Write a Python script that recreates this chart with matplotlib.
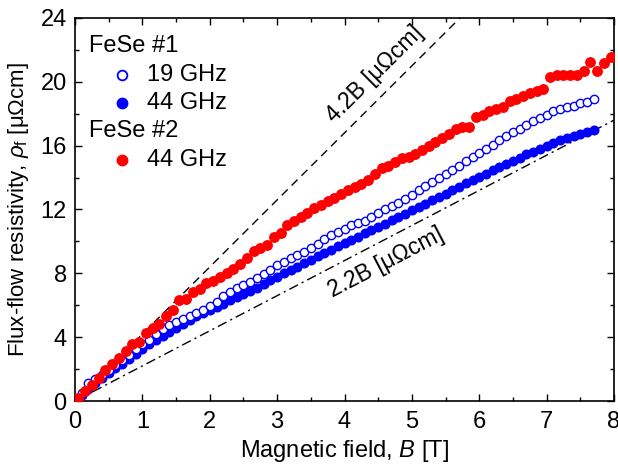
import numpy as np
import matplotlib
matplotlib.use('Agg')
import matplotlib.pyplot as plt

plt.rcParams['font.family'] = 'Liberation Sans'
plt.rcParams['mathtext.fontset'] = 'custom'
plt.rcParams['mathtext.rm'] = 'Liberation Sans'
plt.rcParams['mathtext.it'] = 'Liberation Sans:italic'

# FeSe #1, 19 GHz (open circles)
b_19 = np.round(np.arange(0.1, 7.75, 0.1), 2)
rho_19 = [0.5, 1.1, 1.35, 1.65, 1.95, 2.25, 2.6, 2.9, 3.25, 3.55,
          3.85, 4.2, 4.5, 4.75, 4.95, 5.15, 5.3, 5.5, 5.7, 5.95,
          6.2, 6.55, 6.85, 7.05, 7.25, 7.45, 7.7, 7.95, 8.2, 8.5,
          8.72, 8.95, 9.15, 9.35, 9.6, 9.85, 10.15, 10.4, 10.6, 10.8,
          11.0, 11.15, 11.3, 11.55, 11.8, 12.0, 12.2, 12.4, 12.65, 12.9,
          13.2, 13.45, 13.7, 13.95, 14.2, 14.45, 14.75, 15.05, 15.3, 15.55,
          15.8, 16.05, 16.35, 16.6, 16.85, 17.05, 17.3, 17.55, 17.75, 17.95,
          18.15, 18.3, 18.4, 18.5, 18.65, 18.75, 18.95]

# FeSe #1, 44 GHz (filled blue)
b_44a = np.round(np.arange(0.1, 7.75, 0.1), 2)
rho_44a = [0.35, 0.75, 1.1, 1.45, 1.75, 2.05, 2.35, 2.65, 2.95, 3.25,
           3.55, 3.8, 4.05, 4.3, 4.55, 4.8, 5.05, 5.3, 5.5, 5.7,
           5.9, 6.1, 6.3, 6.5, 6.7, 6.9, 7.1, 7.35, 7.58, 7.8,
           8.0, 8.2, 8.42, 8.63, 8.85, 9.06, 9.27, 9.48, 9.69, 9.9,
           10.1, 10.3, 10.5, 10.7, 10.9, 11.1, 11.32, 11.53, 11.74, 11.95,
           12.16, 12.37, 12.58, 12.79, 13.0, 13.21, 13.42, 13.63, 13.84, 14.05,
           14.25, 14.45, 14.65, 14.85, 15.05, 15.25, 15.45, 15.63, 15.82, 16.0,
           16.17, 16.33, 16.48, 16.62, 16.75, 16.88, 17.0]

# FeSe #2, 44 GHz (filled red)
b_44b = np.round(np.arange(0.05, 8.0, 0.1), 2)
rho_44b = [0.2, 0.6, 1.0, 1.45, 1.95, 2.3, 2.7, 3.15, 3.6, 3.7,
           4.25, 4.55, 4.85, 5.3, 5.7, 6.35, 6.4, 6.8, 7.0, 7.4,
           7.55, 7.8, 8.0, 8.3, 8.6, 8.95, 9.4, 9.6, 9.75, 10.3,
           10.5, 11.0, 11.25, 11.5, 11.8, 12.1, 12.3, 12.55, 12.7, 12.95,
           13.2, 13.4, 13.6, 13.85, 14.2, 14.6, 14.75, 15.0, 15.2, 15.3,
           15.45, 15.7, 15.95, 16.2, 16.45, 16.7, 17.05, 17.15, 17.2, 17.8,
           17.95, 18.15, 18.3, 18.45, 18.8, 18.95, 19.1, 19.3, 19.45, 19.55,
           20.3, 20.45, 20.4, 20.4, 20.45, 20.7, 21.25, 20.7, 21.2, 21.55]

# reference slopes [uOhm cm / T]
slope_hi = 4.2
slope_lo = 2.2

fig = plt.figure(figsize=(6.18, 4.67), dpi=100)
ax = fig.add_axes([0.1214, 0.1413, 0.8721, 0.8202])

bb = np.array([0, 8])
ax.plot(bb, slope_hi * bb, color='black', lw=1.0, dashes=(6, 4), zorder=1)
ax.plot(bb, slope_lo * bb, color='black', lw=1.0, dashes=(7, 3, 1.5, 3), zorder=1)

ax.plot(b_44a, rho_44a, 'o', color='#0000ff', ms=6.2, mec='#0000ff', zorder=3)
ax.plot(b_19, rho_19, 'o', mfc='white', mec='#0000ff', mew=1.0, ms=6.0, zorder=4)
ax.plot(b_44b, rho_44b, 'o', color='#ff0000', ms=6.8, mec='#ff0000', zorder=5)

ax.text(4.45, 20.5, '4.2B [μΩcm]', rotation=44.9, rotation_mode='anchor',
        ha='center', va='center', fontsize=16.5)
ax.text(4.62, 8.7, '2.2B [μΩcm]', rotation=27.5, rotation_mode='anchor',
        ha='center', va='center', fontsize=16.5)

# legend drawn by hand
tr = ax.transAxes
fs_leg = 17
ax.text(0.026, 0.927, 'FeSe #1', transform=tr, fontsize=fs_leg, va='center')
ax.plot([0.0878], [0.851], 'o', mfc='white', mec='#0000ff', mew=1.3, ms=7, transform=tr)
ax.text(0.133, 0.851, '19 GHz', transform=tr, fontsize=fs_leg, va='center')
ax.plot([0.0878], [0.777], 'o', color='#0000ff', ms=7.5, transform=tr)
ax.text(0.133, 0.777, '44 GHz', transform=tr, fontsize=fs_leg, va='center')
ax.text(0.026, 0.705, 'FeSe #2', transform=tr, fontsize=fs_leg, va='center')
ax.plot([0.0878], [0.629], 'o', color='#ff0000', ms=7.5, transform=tr)
ax.text(0.133, 0.629, '44 GHz', transform=tr, fontsize=fs_leg, va='center')

ax.set_xlim(0, 8)
ax.set_ylim(0, 24)
ax.set_xticks(np.arange(0, 9, 1))
ax.set_xticks(np.arange(0.5, 8, 1), minor=True)
ax.set_yticks(np.arange(0, 25, 4))
ax.set_yticks(np.arange(2, 24, 4), minor=True)
ax.tick_params(which='both', direction='in', top=True, right=True, width=1.0)
ax.tick_params(which='major', length=5, labelsize=17)
ax.tick_params(axis='x', which='major', pad=7)
ax.tick_params(axis='y', which='major', pad=6)
ax.tick_params(which='minor', length=3)
for s in ax.spines.values():
    s.set_linewidth(1.2)

ax.set_xlabel('Magnetic field, $B$ [T]', fontsize=17, labelpad=4)
ax.set_ylabel(r'Flux-flow resistivity, $\rho_\mathrm{f}$ [μΩcm]', fontsize=16, labelpad=7)

plt.savefig('out.png', dpi=100)
